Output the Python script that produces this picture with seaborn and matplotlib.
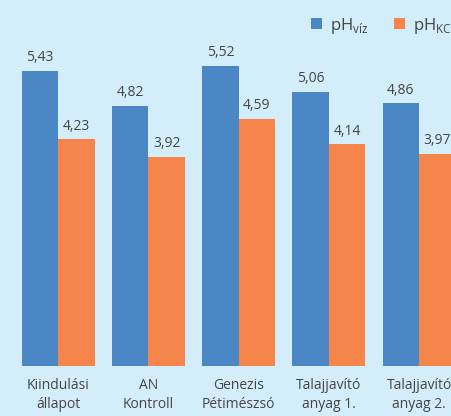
import matplotlib
matplotlib.use("Agg")
import matplotlib.pyplot as plt
import seaborn as sns
import pandas as pd

categories = ["Kiindulási\nállapot", "AN\nKontroll", "Genezis\nPétimészsó",
              "Talajjavító\nanyag 1.", "Talajjavító\nanyag 2."]
ph_viz = [5.43, 4.82, 5.52, 5.06, 4.86]
ph_kcl = [4.23, 3.92, 4.59, 4.14, 3.97]
series = ["pH$_{\\mathregular{víz}}$", "pH$_{\\mathregular{KCl}}$"]

bg = "#d3eefa"
blue = "#4a87c4"
orange = "#f5854a"
text_col = "#454545"

df = pd.DataFrame({
    "kategoria": categories * 2,
    "ertek": ph_viz + ph_kcl,
    "sorozat": [series[0]] * len(categories) + [series[1]] * len(categories),
})

sns.set_style("white")
plt.rcParams["font.family"] = ["Open Sans", "DejaVu Sans"]

fig = plt.figure(figsize=(4.52, 4.16), dpi=100, facecolor=bg)
ax = fig.add_axes([0, 0.121, 1, 0.8274])
ax.set_facecolor(bg)

sns.barplot(data=df, x="kategoria", y="ertek", hue="sorozat",
            palette=[blue, orange], width=0.81, saturation=1,
            linewidth=0, ax=ax)

for cont in ax.containers:
    labels = [f"{v:.2f}".replace(".", ",") for v in cont.datavalues]
    ax.bar_label(cont, labels=labels, padding=4, fontsize=10, color=text_col)

ax.set_xlim(-0.646, 4.365)
ax.set_ylim(0.25, 6.3)
ax.set_xlabel("")
ax.set_ylabel("")
ax.set_yticks([])
ax.tick_params(axis="x", length=0, pad=9, labelsize=10, labelcolor=text_col)
for lbl in ax.get_xticklabels():
    lbl.set_linespacing(1.35)
sns.despine(ax=ax, left=True, bottom=True)

handles, labs = ax.get_legend_handles_labels()
ax.legend(handles, labs, loc="center left",
          bbox_to_anchor=(311 / 452, 1 - 25.5 / 416),
          bbox_transform=fig.transFigure, ncol=2, frameon=False,
          fontsize=12, handlelength=0.66, handleheight=0.66,
          handletextpad=0.5, columnspacing=1.5, borderpad=0,
          borderaxespad=0, labelcolor=text_col)

fig.savefig("out.png", dpi=100, facecolor=bg)
